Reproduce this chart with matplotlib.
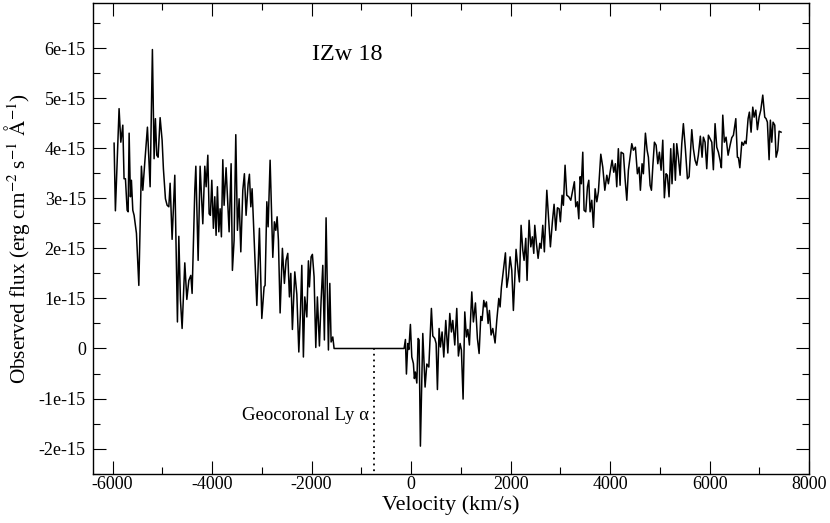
#!/usr/bin/env python3
"""
IZw 18 spectrum around Ly alpha, observed flux vs velocity.
"""

import matplotlib
matplotlib.use("Agg")
import matplotlib.pyplot as plt
from matplotlib.ticker import MultipleLocator, FuncFormatter

plt.rcParams["font.family"] = ["Liberation Serif", "DejaVu Serif"]
plt.rcParams["mathtext.fontset"] = "stix"
plt.rcParams["axes.unicode_minus"] = False

FLUX_UNIT = 1e-15

# blue side of the profile (km/s, flux in 1e-15 erg cm-2 s-1 A-1)
vel_blue = [
    -5970, -5944, -5870, -5835, -5795, -5770, -5742, -5708, -5688, -5668,
    -5642, -5622, -5594, -5568, -5521, -5473, -5421, -5393, -5353, -5300,
    -5246, -5200, -5166, -5140, -5112, -5085, -5045, -5005, -4979, -4938,
    -4904, -4870, -4844, -4804, -4750, -4697, -4669, -4637, -4603, -4549,
    -4508, -4468, -4428, -4402, -4348, -4327, -4281, -4241, -4187, -4147,
    -4120, -4086, -4060, -4034, -4006, -3974, -3946, -3920, -3893, -3865,
    -3839, -3813, -3785, -3759, -3719, -3658, -3618, -3592, -3558, -3524,
    -3491, -3457, -3423, -3383, -3351, -3317, -3276, -3250, -3222, -3196,
    -3155, -3101, -3049, -3001, -2955, -2935, -2900, -2874, -2834, -2780,
    -2748, -2720, -2693, -2667, -2633, -2587, -2547, -2513, -2479, -2446,
    -2418, -2386, -2338, -2297, -2257, -2225, -2197, -2165, -2137, -2096,
    -2064, -2044, -2010, -1984, -1950, -1916, -1884, -1843, -1809, -1775,
    -1743, -1709, -1662, -1634, -1608, -1574, -1548,
]
flux_blue = [
    4.10, 2.75, 4.79, 4.12, 4.46, 3.39, 3.39, 2.76, 2.73, 4.30,
    3.03, 3.36, 2.76, 2.66, 2.30, 1.26, 3.64, 3.16, 3.72, 4.42,
    3.23, 5.97, 3.79, 4.59, 3.86, 3.82, 4.61, 4.16, 3.59, 2.99,
    2.86, 2.83, 3.30, 2.18, 3.46, 0.53, 2.24, 0.98, 0.40, 1.71,
    0.98, 1.36, 1.46, 1.10, 3.16, 3.64, 1.76, 3.64, 2.49, 3.64,
    3.23, 3.86, 2.69, 2.66, 3.36, 2.40, 3.03, 2.26, 3.23, 2.33,
    2.79, 2.23, 3.77, 2.86, 3.61, 2.33, 3.69, 1.56, 2.16, 4.27,
    2.36, 2.99, 1.93, 3.16, 3.49, 2.66, 3.29, 3.48, 2.83, 3.19,
    2.20, 0.86, 2.40, 0.60, 1.23, 1.26, 2.93, 2.43, 3.76, 1.82,
    2.53, 2.36, 2.63, 2.16, 0.71, 2.00, 1.30, 1.76, 1.90, 1.03,
    1.50, 0.38, 1.53, 1.08, -0.07, 0.70, 1.66, -0.17, 1.03, 0.63,
    1.75, 1.23, 1.83, 1.88, 1.43, 0.02, 1.03, 0.05, 0.96, 1.66,
    0.17, 2.61, -0.03, 1.30, 0.13, 0.23, 0.00,
]

# red side of the profile
vel_red = [
    -141, -114, -94, -66, -46, -14, 14, 46, 66, 86,
    115, 141, 161, 187, 235, 281, 316, 356, 408, 436,
    476, 503, 529, 563, 589, 623, 657, 697, 738, 778,
    810, 838, 878, 918, 951, 985, 1011, 1045, 1079, 1112,
    1140, 1172, 1220, 1252, 1293, 1333, 1367, 1401, 1427, 1461,
    1487, 1514, 1548, 1574, 1608, 1642, 1688, 1722, 1763, 1789,
    1815, 1856, 1896, 1924, 1956, 1990, 2024, 2056, 2110, 2151,
    2177, 2211, 2245, 2271, 2305, 2331, 2372, 2406, 2438, 2466,
    2486, 2519, 2553, 2587, 2613, 2647, 2679, 2728, 2760, 2800,
    2840, 2874, 2908, 2941, 2975, 3001, 3035, 3061, 3095, 3129,
    3169, 3210, 3250, 3282, 3310, 3343, 3371, 3397, 3423, 3451,
    3477, 3511, 3545, 3572, 3598, 3632, 3665, 3699, 3733, 3765,
    3813, 3853, 3894, 3934, 3966, 4000, 4040, 4074, 4106, 4134,
    4166, 4201, 4221, 4268, 4301, 4336, 4368, 4402, 4436, 4468,
    4509, 4549, 4583, 4609, 4643, 4669, 4710, 4744, 4770, 4804,
    4831, 4859, 4891, 4925, 4959, 4991, 5025, 5059, 5091, 5125,
    5151, 5185, 5219, 5245, 5280, 5312, 5340, 5372, 5407, 5441,
    5473, 5513, 5554, 5588, 5642, 5674, 5708, 5742, 5774, 5814,
    5849, 5875, 5909, 5943, 5976, 6044, 6076, 6110, 6144, 6177,
    6211, 6237, 6265, 6297, 6331, 6372, 6412, 6446, 6479, 6527,
    6559, 6580, 6608, 6648, 6680, 6708, 6734, 6774, 6800, 6834,
    6868, 6895, 6929, 6961, 6995, 7029, 7069, 7109, 7136, 7162,
    7196, 7222, 7250, 7276, 7310, 7337, 7371, 7397, 7437,
]
flux_red = [
    0.00, 0.18, -0.51, 0.10, -0.02, 0.48, -0.17, -0.30, -0.60, -0.47,
    -0.69, 0.20, 0.17, -1.95, 0.30, -0.77, -0.31, -0.37, 0.80, 0.25,
    0.20, 0.10, -0.82, 0.40, 0.03, 0.33, -0.17, 0.56, -0.09, 0.70,
    0.33, 0.56, 0.07, 0.80, -0.15, 0.10, -0.03, -1.01, 0.73, 0.23,
    0.38, 0.07, 1.13, 0.53, 0.91, 0.20, -0.10, 0.64, 0.56, 0.96,
    0.83, 0.93, 0.50, 0.76, 0.27, 0.40, 0.11, 0.56, 1.00, 0.83,
    1.22, 1.56, 1.91, 1.22, 1.43, 1.83, 1.56, 0.76, 1.98, 1.56,
    1.33, 2.46, 1.96, 1.76, 2.20, 1.36, 2.56, 2.03, 2.23, 1.90,
    2.46, 2.10, 1.80, 2.10, 2.00, 2.46, 1.93, 3.16, 2.66, 2.03,
    2.53, 2.88, 2.36, 2.81, 2.79, 2.53, 3.06, 2.86, 3.66, 3.06,
    3.03, 2.96, 3.16, 3.33, 2.83, 2.93, 2.59, 3.43, 3.29, 3.92,
    2.76, 2.73, 3.23, 3.36, 2.73, 2.96, 2.42, 3.19, 2.93, 3.13,
    3.88, 3.62, 3.16, 3.46, 3.29, 3.52, 3.76, 3.52, 3.69, 3.23,
    3.99, 3.26, 3.92, 3.89, 3.39, 2.96, 3.56, 3.82, 4.09, 3.96,
    4.02, 3.49, 3.62, 3.16, 3.69, 3.49, 4.30, 3.96, 3.82, 3.26,
    3.16, 3.64, 4.12, 4.06, 3.69, 3.92, 3.56, 4.16, 3.01, 3.49,
    3.46, 3.03, 3.99, 3.29, 4.09, 3.36, 4.09, 3.82, 3.46, 4.09,
    4.49, 3.99, 3.39, 3.43, 4.37, 3.99, 3.76, 3.66, 3.86, 4.24,
    3.82, 4.22, 4.12, 3.59, 4.26, 4.12, 3.57, 4.49, 4.02, 3.92,
    3.76, 3.61, 4.66, 4.12, 4.22, 3.86, 4.06, 4.21, 4.26, 4.59,
    3.82, 3.81, 3.61, 4.12, 4.06, 4.14, 4.09, 4.59, 4.72, 4.32,
    4.82, 4.62, 4.76, 4.37, 4.62, 4.76, 5.06, 4.62, 4.59, 4.52,
    3.77, 4.56, 4.12, 4.52, 4.46, 3.82, 3.96, 4.34, 4.32,
]

GEOCORONAL_VEL = -750


def main() -> None:
    vel = vel_blue + vel_red
    flux = [f * FLUX_UNIT for f in flux_blue + flux_red]

    fig = plt.figure(figsize=(8.30, 5.23), dpi=100)
    ax = fig.add_axes([0.1117, 0.0943, 0.8631, 0.9000])

    ax.plot(vel, flux, color="black", lw=1.1)
    ax.plot([GEOCORONAL_VEL, GEOCORONAL_VEL], [0, -2.5e-15],
            color="black", lw=1.3, ls=(0, (1, 2.2)))

    ax.set_xlim(-6400, 8000)
    ax.set_ylim(-2.5e-15, 6.9e-15)

    ax.xaxis.set_major_locator(MultipleLocator(2000))
    ax.xaxis.set_minor_locator(MultipleLocator(1000))
    ax.yaxis.set_major_locator(MultipleLocator(1e-15))
    ax.yaxis.set_minor_locator(MultipleLocator(0.5e-15))

    def yfmt(v, pos):
        n = round(v / FLUX_UNIT)
        return "0" if n == 0 else f"{n}e-15"

    ax.yaxis.set_major_formatter(FuncFormatter(yfmt))
    ax.xaxis.set_major_formatter(FuncFormatter(lambda v, p: f"{int(round(v))}"))

    ax.tick_params(which="both", direction="in", top=True, right=True,
                   width=0.8, labelsize=13)
    ax.tick_params(which="major", length=9.5)
    ax.tick_params(which="minor", length=5)
    ax.tick_params(axis="x", pad=2)
    ax.tick_params(axis="y", pad=5)
    for sp in ax.spines.values():
        sp.set_linewidth(1.0)

    ax.set_xlabel("Velocity (km/s)", fontsize=16, labelpad=1)
    ax.set_ylabel(r"Observed flux (erg cm$^{-2}$ s$^{-1}$ $\mathrm{\AA}^{-1}$)",
                  fontsize=15.3, labelpad=5)

    ax.text(-1290, 5.87e-15, "IZw 18", fontsize=17.5, ha="center", va="center")
    ax.text(-840, -1.33e-15, "Geocoronal Ly α", fontsize=13.5,
            ha="right", va="center")

    fig.savefig("out.png", dpi=100)
    plt.close(fig)


if __name__ == "__main__":
    main()
